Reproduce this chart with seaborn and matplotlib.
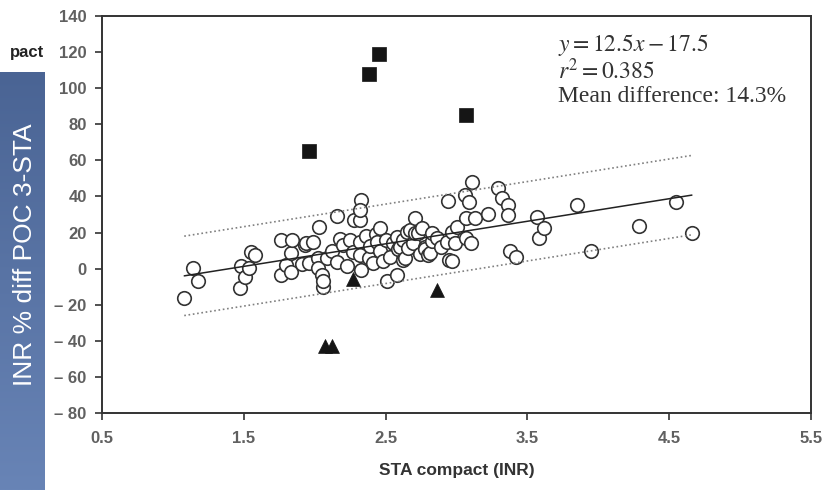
import numpy as np
import pandas as pd
import matplotlib
matplotlib.use("Agg")
import matplotlib.pyplot as plt
import seaborn as sns
from matplotlib.colors import LinearSegmentedColormap

# ---------------- data ----------------
circle_x = [1.08, 1.14, 1.18, 1.47, 1.48, 1.51, 1.54, 1.55, 1.58,
            1.76, 1.76, 1.80, 1.83, 1.83, 1.84, 1.91, 1.93, 1.94, 1.96,
            1.99, 2.02, 2.02, 2.03, 2.05, 2.06, 2.06, 2.09, 2.12, 2.16, 2.16, 2.18,
            2.20, 2.23, 2.25, 2.27, 2.28, 2.32, 2.33, 2.32, 2.32, 2.32, 2.33,
            2.36, 2.38, 2.39, 2.41, 2.43, 2.44, 2.46, 2.46, 2.48, 2.50, 2.51, 2.53,
            2.55, 2.58, 2.58, 2.59, 2.60, 2.62, 2.62, 2.64, 2.65, 2.66, 2.67,
            2.69, 2.71, 2.71, 2.73, 2.74, 2.76, 2.78, 2.78, 2.80, 2.81, 2.83, 2.83,
            2.86, 2.89, 2.93, 2.94, 2.95, 2.97, 2.97, 2.99, 3.00, 3.06, 3.07, 3.07,
            3.09, 3.10, 3.11, 3.13, 3.22, 3.29, 3.32, 3.36, 3.36, 3.38, 3.42,
            3.57, 3.58, 3.62, 3.85, 3.95, 4.29, 4.55, 4.66]
circle_y = [-16.5, 0.5, -7.0, -11.0, 1.5, -4.5, 0.5, 9.0, 7.5,
            16.0, -3.5, 2.0, 8.5, -2.0, 16.0, 2.5, 13.0, 14.0, 3.0,
            15.0, 6.0, 0.5, 23.0, -3.5, -10.0, -7.0, 6.0, 10.0, 29.0, 3.5, 16.5,
            13.0, 1.5, 16.0, 9.0, 27.0, 27.0, 38.0, 32.5, 14.5, 7.5, -0.5,
            18.0, 6.0, 12.5, 3.0, 19.0, 15.0, 22.5, 10.0, 4.0, 16.0, -7.0, 6.5,
            14.0, -3.5, 17.5, 11.0, 12.0, 5.0, 16.0, 6.0, 20.5, 11.5, 21.5,
            14.0, 28.0, 19.5, 20.0, 8.0, 22.5, 12.0, 11.0, 7.5, 8.5, 15.5, 19.5,
            17.0, 12.0, 14.5, 37.5, 5.0, 20.5, 4.0, 14.0, 23.0, 41.0, 28.0, 17.0,
            37.0, 14.0, 48.0, 28.0, 30.5, 44.5, 39.0, 35.0, 30.0, 9.5, 6.5,
            28.5, 17.0, 22.5, 35.5, 10.0, 23.5, 37.0, 20.0]

square_x = [1.96, 2.38, 2.45, 3.07]
square_y = [65.0, 108.0, 119.0, 85.0]

triangle_x = [2.07, 2.12, 2.27, 2.86]
triangle_y = [-43.0, -43.0, -6.0, -12.0]

fit_slope = 12.5
fit_intercept = -17.5
band_halfwidth = 22.0
fit_x_range = [1.08, 4.66]

x_ticks = [0.5, 1.5, 2.5, 3.5, 4.5, 5.5]
x_tick_labels = ["0.5", "1.5", "2.5", "3.5", "4.5", "5.5"]
y_ticks = [140, 120, 100, 80, 60, 40, 20, 0, -20, -40, -60, -80]
y_tick_labels = ["140", "120", "100", "80", "60", "40", "20", "0",
                 "\u2013 20", "\u2013 40", "\u2013 60", "\u2013 80"]

x_label = "STA compact (INR)"
side_label = "INR % diff POC 3-STA"
cut_label = "pact"
stat_lines = [r"$y = 12.5x - 17.5$", r"$r^2 = 0.385$", "Mean difference: 14.3%"]

# ---------------- plot ----------------
sns.set_theme(style="ticks")
plt.rcParams['font.family'] = ['Liberation Sans', 'DejaVu Sans']
plt.rcParams['mathtext.fontset'] = 'stix'

W, H = 826, 490
fig = plt.figure(figsize=(W / 100, H / 100), dpi=100)
fig.patch.set_facecolor("white")

L, R, T, B = 102, 811, 16, 413
ax = fig.add_axes([L / W, 1 - B / H, (R - L) / W, (B - T) / H])
ax.set_facecolor("white")

df_c = pd.DataFrame({"x": circle_x, "y": circle_y})
df_s = pd.DataFrame({"x": square_x, "y": square_y})
df_t = pd.DataFrame({"x": triangle_x, "y": triangle_y})

# fit line and band
fx = np.array(fit_x_range)
fy = fit_slope * fx + fit_intercept
df_fit = pd.DataFrame({"x": np.concatenate([fx, fx, fx]),
                       "y": np.concatenate([fy, fy + band_halfwidth, fy - band_halfwidth]),
                       "kind": ["fit"] * 2 + ["upper"] * 2 + ["lower"] * 2})

sns.scatterplot(data=df_c, x="x", y="y", marker="o", s=95, color="white",
                edgecolor="#333333", linewidth=1.2, ax=ax, zorder=3)
for kind, ls, col, lw in [("upper", (0, (1, 1.6)), "#808080", 1.2),
                          ("lower", (0, (1, 1.6)), "#808080", 1.2),
                          ("fit", "-", "#222222", 1.1)]:
    sub = df_fit[df_fit["kind"] == kind]
    sns.lineplot(data=sub, x="x", y="y", ax=ax, color=col, linestyle=ls,
                 linewidth=lw, zorder=4, estimator=None, sort=False)
sns.scatterplot(data=df_s, x="x", y="y", marker="s", s=110, color="#151515",
                edgecolor="#151515", linewidth=0.5, ax=ax, zorder=5)
sns.scatterplot(data=df_t, x="x", y="y", marker="^", s=100, color="#151515",
                edgecolor="#151515", linewidth=0.5, ax=ax, zorder=5)

ax.set_xlim(0.5, 5.5)
ax.set_ylim(-80, 140)
ax.set_xticks(x_ticks)
ax.set_xticklabels(x_tick_labels)
ax.set_yticks(y_ticks)
ax.set_yticklabels(y_tick_labels)
ax.set_ylabel("")
ax.set_xlabel(x_label, fontsize=12.5, fontweight="bold", color="#333333", labelpad=12)

for sp in ax.spines.values():
    sp.set_visible(True)
    sp.set_color("#333333")
    sp.set_linewidth(1.4)
ax.tick_params(axis="both", direction="out", length=5, width=1.2, color="#333333",
               labelsize=12, labelcolor="#606060")
ax.tick_params(axis="x", pad=8)
ax.tick_params(axis="y", pad=6)
for lab in ax.get_xticklabels() + ax.get_yticklabels():
    lab.set_fontweight("bold")

# stats text
for i, s in enumerate(stat_lines):
    fig.text(558 / W, 1 - (45 + 26 * i) / H, s, fontsize=17, color="#333333",
             family="Liberation Serif", va="center", ha="left")

# blue side panel
side_top = 72
sax = fig.add_axes([0, 0, 45 / W, (H - side_top) / H])
cmap = LinearSegmentedColormap.from_list("side", ["#4a6494", "#6884b6"])
sax.imshow(np.linspace(0, 1, 256).reshape(-1, 1), aspect="auto", cmap=cmap,
           extent=[0, 1, 0, 1])
sax.set_axis_off()
fig.text(25 / W, 1 - 255 / H, side_label, rotation=90, color="white", fontsize=19,
         ha="center", va="center")
fig.text(44 / W, 1 - 53 / H, cut_label, fontsize=12, fontweight="bold",
         color="#222222", ha="right", va="center")

fig.savefig("out.png", dpi=100)
